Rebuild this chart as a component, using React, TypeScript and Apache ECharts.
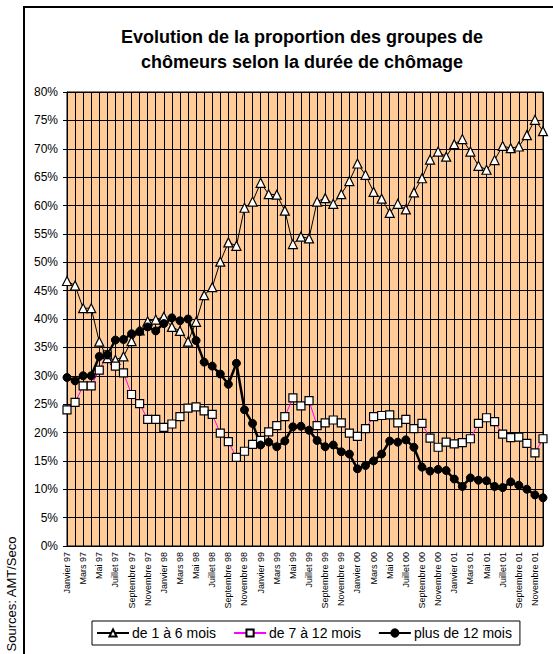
import React, { useEffect, useRef } from "react";
import * as echarts from "echarts";

const monthNames = ["Janvier", "Février", "Mars", "Avril", "Mai", "Juin", "Juillet", "Août", "Septembre", "Octobre", "Novembre", "Décembre"];
const years = ["97", "98", "99", "00", "01"];
const categories: string[] = [];
years.forEach((y) => monthNames.forEach((m) => categories.push(m + " " + y)));

const seriesNames = ["de 1 à 6 mois", "de 7 à 12 mois", "plus de 12 mois"];

const s1to6 = [
  46.7, 45.9, 41.9, 41.9, 36.0, 33.1, 32.8, 33.4, 36.1, 38.0, 39.6, 39.9,
  40.4, 38.6, 37.9, 36.0, 39.5, 44.2, 45.6, 50.1, 53.5, 52.9, 59.6, 60.7,
  64.0, 62.0, 61.9, 59.1, 53.2, 54.5, 54.2, 60.7, 61.3, 60.3, 62.0, 64.3,
  67.4, 65.4, 62.4, 61.2, 58.7, 60.3, 59.3, 62.3, 64.8, 68.1, 69.5, 68.6,
  70.8, 71.7, 69.5, 67.0, 66.3, 68.0, 70.5, 70.1, 70.4, 72.4, 75.1, 73.1,
];
const s7to12 = [
  24.0, 25.3, 28.2, 28.2, 31.0, 33.7, 31.7, 30.5, 26.7, 25.1, 22.3, 22.3,
  20.9, 21.5, 22.8, 24.3, 24.5, 23.8, 23.2, 19.9, 18.4, 15.6, 16.7, 17.9,
  18.6, 20.1, 21.2, 22.8, 26.1, 24.7, 25.6, 21.2, 21.7, 22.2, 21.7, 19.9,
  19.3, 20.7, 22.8, 23.0, 23.1, 21.7, 22.3, 20.7, 21.6, 19.0, 17.4, 18.3,
  18.0, 18.2, 18.9, 21.6, 22.6, 21.9, 19.7, 19.1, 19.2, 18.1, 16.4, 18.9,
];
const sOver12 = [
  29.7, 29.1, 30.0, 30.0, 33.4, 33.7, 36.3, 36.4, 37.4, 37.8, 38.6, 37.9,
  39.2, 40.2, 39.7, 40.0, 36.2, 32.4, 31.7, 30.3, 28.5, 32.2, 24.0, 21.6,
  17.8, 18.3, 17.5, 18.5, 21.0, 21.1, 20.4, 18.6, 17.5, 17.8, 16.6, 16.2,
  13.6, 14.2, 15.0, 16.2, 18.5, 18.3, 18.7, 17.4, 13.9, 13.2, 13.5, 13.3,
  11.8, 10.5, 12.0, 11.6, 11.5, 10.5, 10.3, 11.3, 10.7, 10.0, 9.0, 8.5,
];

const titleLines = ["Evolution de la proportion des groupes de", "chômeurs selon la durée de chômage"];
const sourceText = "Sources: AMT/Seco";

const FONT = "'Liberation Sans', Arial, sans-serif";

export default function App() {
  const ref = useRef<HTMLDivElement>(null);
  useEffect(() => {
    if (!ref.current) return;
    const chart = echarts.init(ref.current, undefined, { renderer: "svg" });
    chart.setOption({
      animation: false,
      backgroundColor: "#ffffff",
      textStyle: { fontFamily: FONT },
      title: {
        text: titleLines.join("\n"),
        left: 297,
        top: 19,
        textAlign: "center",
        textStyle: { fontSize: 18, fontWeight: "bold", color: "#000", lineHeight: 25, fontFamily: FONT },
      },
      grid: { left: 67, right: 10, top: 92, bottom: 108, show: true, backgroundColor: "#FFCC99", borderColor: "#000", borderWidth: 1 },
      legend: {
        data: seriesNames,
        left: 92,
        top: 621,
        padding: [5, 8, 5, 4],
        itemGap: 17,
        itemWidth: 32,
        itemHeight: 9,
        borderColor: "#000",
        borderWidth: 1,
        borderRadius: 0,
        textStyle: { fontSize: 14, color: "#000", fontFamily: FONT, padding: [0, 0, 0, -2] },
      },
      xAxis: {
        type: "category",
        data: categories,
        boundaryGap: false,
        axisLine: { lineStyle: { color: "#000", width: 1 } },
        axisTick: { show: false },
        axisLabel: { interval: 1, rotate: 90, fontSize: 9, color: "#000", margin: 6, fontFamily: FONT },
        splitLine: { show: true, interval: 0, lineStyle: { color: "#000", width: 1 } },
      },
      yAxis: {
        type: "value",
        min: 0,
        max: 80,
        interval: 5,
        axisLine: { show: true, lineStyle: { color: "#000", width: 1 } },
        axisTick: { show: true, length: 4, lineStyle: { color: "#000" } },
        axisLabel: { formatter: "{value}%", fontSize: 12, color: "#000", margin: 9, fontFamily: FONT },
        splitLine: { show: true, lineStyle: { color: "#000", width: 1 } },
      },
      series: [
        {
          name: seriesNames[0],
          type: "line",
          data: s1to6,
          symbol: "triangle",
          symbolSize: 9,
          showAllSymbol: true,
          lineStyle: { color: "#000", width: 1 },
          itemStyle: { color: "#fff", borderColor: "#000", borderWidth: 1.2 },
        },
        {
          name: seriesNames[1],
          type: "line",
          data: s7to12,
          symbol: "rect",
          symbolSize: 8,
          showAllSymbol: true,
          lineStyle: { color: "#FF00FF", width: 1 },
          itemStyle: { color: "#fff", borderColor: "#000", borderWidth: 1.2 },
        },
        {
          name: seriesNames[2],
          type: "line",
          data: sOver12,
          symbol: "circle",
          symbolSize: 8,
          showAllSymbol: true,
          lineStyle: { color: "#000", width: 2.5 },
          itemStyle: { color: "#000", borderColor: "#000", borderWidth: 1 },
        },
      ],
      graphic: [
        {
          type: "rect",
          shape: { x: 24, y: 7, width: 600, height: 700 },
          style: { fill: "none", stroke: "#000", lineWidth: 2 },
          silent: true,
        },
        {
          type: "text",
          x: 11,
          y: 594,
          rotation: Math.PI / 2,
          style: { text: sourceText, fontSize: 13, fill: "#000", font: "13px " + FONT, textAlign: "center", textVerticalAlign: "middle" },
          silent: true,
        },
      ],
    });
    return () => chart.dispose();
  }, []);
  return <div ref={ref} style={{ position: "absolute", left: 0, top: 0, width: 553, height: 654 }} />;
}
